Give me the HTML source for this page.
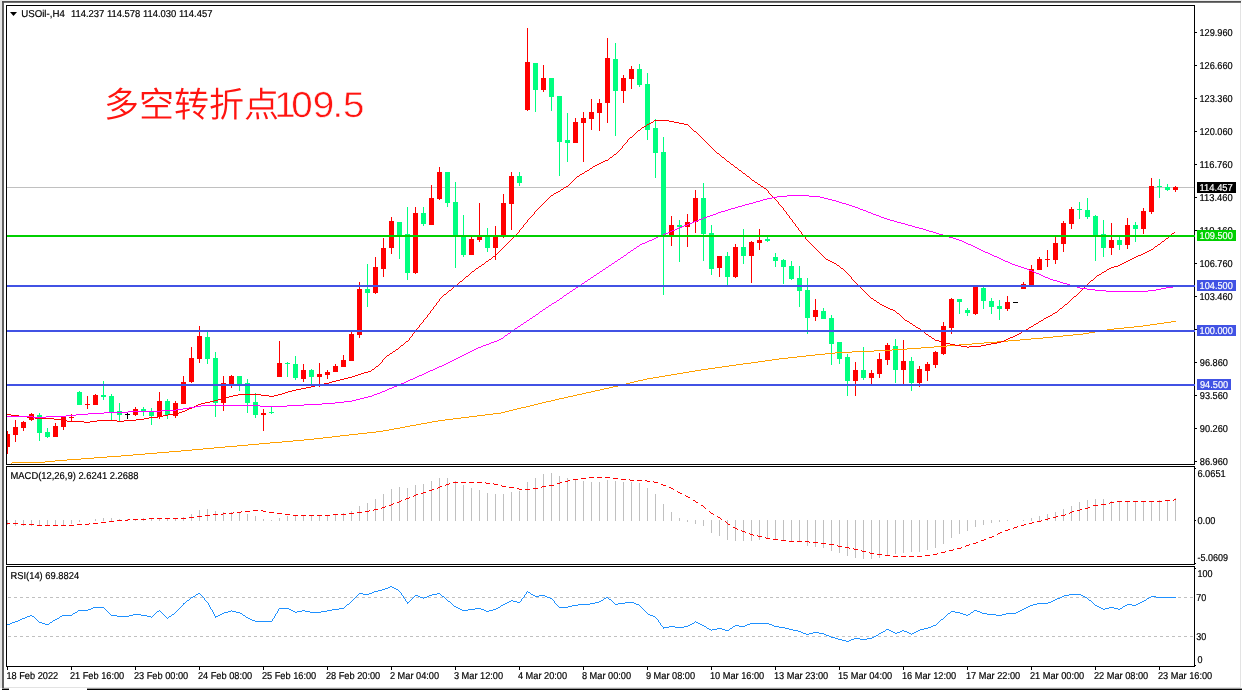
<!DOCTYPE html>
<html lang="zh"><head><meta charset="utf-8"><title>USOil H4</title>
<style>
html,body{margin:0;padding:0;background:#fff;}
body{width:1242px;height:690px;overflow:hidden;}
svg{display:block;will-change:transform;}
text{font-family:"Liberation Sans","Noto Sans CJK SC",sans-serif;font-size:10px;text-rendering:geometricPrecision;fill:#000;white-space:pre;stroke:#000;stroke-width:0.2px;}
.tg{opacity:0.999;}
.ce{shape-rendering:crispEdges;}
.title{stroke:none;font-size:34px;fill:#ff1410;font-weight:350;}
</style></head><body>
<svg width="1242" height="690" viewBox="0 0 1242 690">
<rect width="1242" height="690" fill="#fff"/>

<g class="ce">
<rect x="0" y="0" width="1242" height="1" fill="#ececec"/>
<rect x="0" y="0" width="2" height="688" fill="#e6e6e6"/>
</g><g>
<rect x="2" y="1" width="1239" height="1.8" fill="#505050"/>
<rect x="2.1" y="1" width="1.8" height="687" fill="#505050"/>
</g><g class="ce">
<rect x="1240" y="3" width="1" height="685" fill="#e3e3e3"/>
<rect x="4" y="687" width="1237" height="1" fill="#e3e3e3"/>
<rect x="87" y="689" width="1155" height="1" fill="#000"/>
<rect x="2" y="689" width="7" height="1" fill="#000"/>
</g>
<rect x="87" y="688.6" width="1155" height="0.4" fill="#000"/><rect x="2" y="688.6" width="7" height="0.4" fill="#000"/>
<g class="ce">
<rect x="7" y="187" width="1187" height="1" fill="#c0c0c0"/>
</g>
<g class="ce">
<rect x="7" y="434" width="3" height="13" fill="#ff0000"/>
<rect x="7" y="431" width="1" height="23" fill="#ff0000"/>
<rect x="15" y="420" width="1" height="22" fill="#ff0000"/>
<rect x="13" y="427" width="5" height="8" fill="#ff0000"/>
<rect x="23" y="421" width="1" height="10" fill="#ff0000"/>
<rect x="21" y="422" width="5" height="6" fill="#ff0000"/>
<rect x="31" y="413" width="1" height="8" fill="#ff0000"/>
<rect x="29" y="414" width="5" height="6" fill="#ff0000"/>
<rect x="39" y="413" width="1" height="28" fill="#00ff7f"/>
<rect x="37" y="415" width="5" height="18" fill="#00ff7f"/>
<rect x="47" y="428" width="1" height="10" fill="#00ff7f"/>
<rect x="45" y="432" width="5" height="5" fill="#00ff7f"/>
<rect x="55" y="423" width="1" height="14" fill="#ff0000"/>
<rect x="53" y="426" width="5" height="11" fill="#ff0000"/>
<rect x="63" y="416" width="1" height="14" fill="#ff0000"/>
<rect x="61" y="417" width="5" height="10" fill="#ff0000"/>
<rect x="71" y="414" width="1" height="8" fill="#ff0000"/>
<rect x="69" y="417" width="5" height="1" fill="#ff0000"/>
<rect x="79" y="391" width="1" height="14" fill="#00ff7f"/>
<rect x="77" y="392" width="5" height="13" fill="#00ff7f"/>
<rect x="87" y="396" width="1" height="13" fill="#ff0000"/>
<rect x="85" y="404" width="5" height="1" fill="#ff0000"/>
<rect x="95" y="394" width="1" height="11" fill="#ff0000"/>
<rect x="93" y="395" width="5" height="10" fill="#ff0000"/>
<rect x="103" y="381" width="1" height="19" fill="#00ff7f"/>
<rect x="101" y="395" width="5" height="2" fill="#00ff7f"/>
<rect x="111" y="394" width="1" height="26" fill="#00ff7f"/>
<rect x="109" y="396" width="5" height="16" fill="#00ff7f"/>
<rect x="119" y="403" width="1" height="18" fill="#00ff7f"/>
<rect x="117" y="411" width="5" height="4" fill="#00ff7f"/>
<rect x="127" y="413" width="1" height="6" fill="#000"/>
<rect x="125" y="414" width="5" height="1" fill="#000"/>
<rect x="135" y="407" width="1" height="9" fill="#ff0000"/>
<rect x="133" y="409" width="5" height="6" fill="#ff0000"/>
<rect x="143" y="407" width="1" height="9" fill="#00ff7f"/>
<rect x="141" y="409" width="5" height="2" fill="#00ff7f"/>
<rect x="151" y="408" width="1" height="17" fill="#00ff7f"/>
<rect x="149" y="412" width="5" height="4" fill="#00ff7f"/>
<rect x="159" y="392" width="1" height="27" fill="#ff0000"/>
<rect x="157" y="401" width="5" height="16" fill="#ff0000"/>
<rect x="167" y="399" width="1" height="20" fill="#00ff7f"/>
<rect x="165" y="401" width="5" height="14" fill="#00ff7f"/>
<rect x="175" y="401" width="1" height="17" fill="#ff0000"/>
<rect x="173" y="403" width="5" height="13" fill="#ff0000"/>
<rect x="183" y="376" width="1" height="28" fill="#ff0000"/>
<rect x="181" y="382" width="5" height="22" fill="#ff0000"/>
<rect x="191" y="347" width="1" height="36" fill="#ff0000"/>
<rect x="189" y="358" width="5" height="24" fill="#ff0000"/>
<rect x="199" y="326" width="1" height="37" fill="#ff0000"/>
<rect x="197" y="336" width="5" height="23" fill="#ff0000"/>
<rect x="207" y="332" width="1" height="32" fill="#00ff7f"/>
<rect x="205" y="337" width="5" height="22" fill="#00ff7f"/>
<rect x="215" y="352" width="1" height="65" fill="#00ff7f"/>
<rect x="213" y="358" width="5" height="45" fill="#00ff7f"/>
<rect x="223" y="376" width="1" height="35" fill="#ff0000"/>
<rect x="221" y="383" width="5" height="20" fill="#ff0000"/>
<rect x="231" y="375" width="1" height="13" fill="#ff0000"/>
<rect x="229" y="376" width="5" height="8" fill="#ff0000"/>
<rect x="239" y="376" width="1" height="15" fill="#00ff7f"/>
<rect x="237" y="376" width="5" height="8" fill="#00ff7f"/>
<rect x="247" y="379" width="1" height="34" fill="#00ff7f"/>
<rect x="245" y="383" width="5" height="20" fill="#00ff7f"/>
<rect x="255" y="393" width="1" height="25" fill="#00ff7f"/>
<rect x="253" y="402" width="5" height="13" fill="#00ff7f"/>
<rect x="263" y="409" width="1" height="22" fill="#ff0000"/>
<rect x="261" y="413" width="5" height="2" fill="#ff0000"/>
<rect x="271" y="406" width="1" height="8" fill="#00ff7f"/>
<rect x="269" y="412" width="5" height="1" fill="#00ff7f"/>
<rect x="279" y="341" width="1" height="36" fill="#ff0000"/>
<rect x="277" y="363" width="5" height="14" fill="#ff0000"/>
<rect x="287" y="362" width="1" height="15" fill="#00ff7f"/>
<rect x="285" y="363" width="5" height="1" fill="#00ff7f"/>
<rect x="295" y="356" width="1" height="24" fill="#00ff7f"/>
<rect x="293" y="364" width="5" height="14" fill="#00ff7f"/>
<rect x="303" y="364" width="1" height="18" fill="#ff0000"/>
<rect x="301" y="370" width="5" height="9" fill="#ff0000"/>
<rect x="311" y="369" width="1" height="16" fill="#00ff7f"/>
<rect x="309" y="370" width="5" height="7" fill="#00ff7f"/>
<rect x="319" y="363" width="1" height="24" fill="#ff0000"/>
<rect x="317" y="374" width="5" height="3" fill="#ff0000"/>
<rect x="327" y="370" width="1" height="9" fill="#ff0000"/>
<rect x="325" y="372" width="5" height="3" fill="#ff0000"/>
<rect x="335" y="364" width="1" height="8" fill="#ff0000"/>
<rect x="333" y="366" width="5" height="6" fill="#ff0000"/>
<rect x="343" y="355" width="1" height="12" fill="#ff0000"/>
<rect x="341" y="360" width="5" height="7" fill="#ff0000"/>
<rect x="351" y="332" width="1" height="29" fill="#ff0000"/>
<rect x="349" y="334" width="5" height="27" fill="#ff0000"/>
<rect x="359" y="282" width="1" height="56" fill="#ff0000"/>
<rect x="357" y="289" width="5" height="46" fill="#ff0000"/>
<rect x="367" y="264" width="1" height="43" fill="#00ff7f"/>
<rect x="365" y="289" width="5" height="4" fill="#00ff7f"/>
<rect x="375" y="257" width="1" height="37" fill="#ff0000"/>
<rect x="373" y="267" width="5" height="26" fill="#ff0000"/>
<rect x="383" y="238" width="1" height="39" fill="#ff0000"/>
<rect x="381" y="248" width="5" height="21" fill="#ff0000"/>
<rect x="391" y="217" width="1" height="37" fill="#ff0000"/>
<rect x="389" y="221" width="5" height="27" fill="#ff0000"/>
<rect x="399" y="222" width="1" height="37" fill="#00ff7f"/>
<rect x="397" y="222" width="5" height="13" fill="#00ff7f"/>
<rect x="407" y="207" width="1" height="73" fill="#00ff7f"/>
<rect x="405" y="234" width="5" height="39" fill="#00ff7f"/>
<rect x="415" y="207" width="1" height="67" fill="#ff0000"/>
<rect x="413" y="213" width="5" height="60" fill="#ff0000"/>
<rect x="423" y="207" width="1" height="19" fill="#00ff7f"/>
<rect x="421" y="213" width="5" height="11" fill="#00ff7f"/>
<rect x="431" y="185" width="1" height="40" fill="#ff0000"/>
<rect x="429" y="198" width="5" height="27" fill="#ff0000"/>
<rect x="439" y="167" width="1" height="33" fill="#ff0000"/>
<rect x="437" y="172" width="5" height="27" fill="#ff0000"/>
<rect x="447" y="172" width="1" height="35" fill="#00ff7f"/>
<rect x="445" y="172" width="5" height="31" fill="#00ff7f"/>
<rect x="455" y="182" width="1" height="86" fill="#00ff7f"/>
<rect x="453" y="202" width="5" height="33" fill="#00ff7f"/>
<rect x="463" y="215" width="1" height="42" fill="#00ff7f"/>
<rect x="461" y="236" width="5" height="19" fill="#00ff7f"/>
<rect x="471" y="237" width="1" height="18" fill="#ff0000"/>
<rect x="469" y="239" width="5" height="16" fill="#ff0000"/>
<rect x="479" y="203" width="1" height="39" fill="#ff0000"/>
<rect x="477" y="237" width="5" height="3" fill="#ff0000"/>
<rect x="487" y="228" width="1" height="24" fill="#00ff7f"/>
<rect x="485" y="237" width="5" height="11" fill="#00ff7f"/>
<rect x="495" y="226" width="1" height="34" fill="#ff0000"/>
<rect x="493" y="237" width="5" height="11" fill="#ff0000"/>
<rect x="503" y="194" width="1" height="44" fill="#ff0000"/>
<rect x="501" y="203" width="5" height="32" fill="#ff0000"/>
<rect x="511" y="172" width="1" height="58" fill="#ff0000"/>
<rect x="509" y="176" width="5" height="28" fill="#ff0000"/>
<rect x="519" y="172" width="1" height="14" fill="#00ff7f"/>
<rect x="517" y="176" width="5" height="7" fill="#00ff7f"/>
<rect x="527" y="28" width="1" height="83" fill="#ff0000"/>
<rect x="525" y="62" width="5" height="48" fill="#ff0000"/>
<rect x="535" y="63" width="1" height="49" fill="#00ff7f"/>
<rect x="533" y="63" width="5" height="27" fill="#00ff7f"/>
<rect x="543" y="65" width="1" height="27" fill="#ff0000"/>
<rect x="541" y="78" width="5" height="12" fill="#ff0000"/>
<rect x="551" y="78" width="1" height="33" fill="#00ff7f"/>
<rect x="549" y="78" width="5" height="19" fill="#00ff7f"/>
<rect x="559" y="96" width="1" height="80" fill="#00ff7f"/>
<rect x="557" y="96" width="5" height="46" fill="#00ff7f"/>
<rect x="567" y="113" width="1" height="49" fill="#00ff7f"/>
<rect x="565" y="140" width="5" height="3" fill="#00ff7f"/>
<rect x="575" y="118" width="1" height="25" fill="#ff0000"/>
<rect x="573" y="122" width="5" height="21" fill="#ff0000"/>
<rect x="583" y="112" width="1" height="50" fill="#ff0000"/>
<rect x="581" y="118" width="5" height="5" fill="#ff0000"/>
<rect x="591" y="99" width="1" height="31" fill="#ff0000"/>
<rect x="589" y="112" width="5" height="7" fill="#ff0000"/>
<rect x="599" y="99" width="1" height="32" fill="#ff0000"/>
<rect x="597" y="103" width="5" height="10" fill="#ff0000"/>
<rect x="607" y="38" width="1" height="85" fill="#ff0000"/>
<rect x="605" y="58" width="5" height="45" fill="#ff0000"/>
<rect x="615" y="43" width="1" height="93" fill="#00ff7f"/>
<rect x="613" y="59" width="5" height="32" fill="#00ff7f"/>
<rect x="623" y="75" width="1" height="28" fill="#ff0000"/>
<rect x="621" y="78" width="5" height="13" fill="#ff0000"/>
<rect x="631" y="66" width="1" height="23" fill="#ff0000"/>
<rect x="629" y="69" width="5" height="10" fill="#ff0000"/>
<rect x="639" y="64" width="1" height="23" fill="#00ff7f"/>
<rect x="637" y="69" width="5" height="16" fill="#00ff7f"/>
<rect x="647" y="73" width="1" height="67" fill="#00ff7f"/>
<rect x="645" y="84" width="5" height="46" fill="#00ff7f"/>
<rect x="655" y="119" width="1" height="59" fill="#00ff7f"/>
<rect x="653" y="128" width="5" height="25" fill="#00ff7f"/>
<rect x="663" y="137" width="1" height="158" fill="#00ff7f"/>
<rect x="661" y="152" width="5" height="83" fill="#00ff7f"/>
<rect x="671" y="216" width="1" height="30" fill="#ff0000"/>
<rect x="669" y="225" width="5" height="10" fill="#ff0000"/>
<rect x="679" y="220" width="1" height="42" fill="#00ff7f"/>
<rect x="677" y="225" width="5" height="2" fill="#00ff7f"/>
<rect x="687" y="214" width="1" height="33" fill="#ff0000"/>
<rect x="685" y="222" width="5" height="5" fill="#ff0000"/>
<rect x="695" y="190" width="1" height="43" fill="#ff0000"/>
<rect x="693" y="198" width="5" height="24" fill="#ff0000"/>
<rect x="703" y="183" width="1" height="78" fill="#00ff7f"/>
<rect x="701" y="198" width="5" height="36" fill="#00ff7f"/>
<rect x="711" y="225" width="1" height="50" fill="#00ff7f"/>
<rect x="709" y="233" width="5" height="36" fill="#00ff7f"/>
<rect x="719" y="256" width="1" height="21" fill="#ff0000"/>
<rect x="717" y="256" width="5" height="12" fill="#ff0000"/>
<rect x="727" y="252" width="1" height="33" fill="#00ff7f"/>
<rect x="725" y="256" width="5" height="21" fill="#00ff7f"/>
<rect x="735" y="244" width="1" height="34" fill="#ff0000"/>
<rect x="733" y="247" width="5" height="30" fill="#ff0000"/>
<rect x="743" y="229" width="1" height="35" fill="#00ff7f"/>
<rect x="741" y="247" width="5" height="9" fill="#00ff7f"/>
<rect x="751" y="241" width="1" height="42" fill="#ff0000"/>
<rect x="749" y="242" width="5" height="14" fill="#ff0000"/>
<rect x="759" y="229" width="1" height="21" fill="#ff0000"/>
<rect x="757" y="240" width="5" height="3" fill="#ff0000"/>
<rect x="767" y="237" width="1" height="5" fill="#00ff7f"/>
<rect x="765" y="239" width="5" height="2" fill="#00ff7f"/>
<rect x="775" y="253" width="1" height="14" fill="#00ff7f"/>
<rect x="773" y="257" width="5" height="4" fill="#00ff7f"/>
<rect x="783" y="259" width="1" height="25" fill="#00ff7f"/>
<rect x="781" y="260" width="5" height="7" fill="#00ff7f"/>
<rect x="791" y="261" width="1" height="19" fill="#00ff7f"/>
<rect x="789" y="266" width="5" height="13" fill="#00ff7f"/>
<rect x="799" y="266" width="1" height="41" fill="#00ff7f"/>
<rect x="797" y="278" width="5" height="13" fill="#00ff7f"/>
<rect x="807" y="278" width="1" height="56" fill="#00ff7f"/>
<rect x="805" y="290" width="5" height="28" fill="#00ff7f"/>
<rect x="815" y="299" width="1" height="22" fill="#ff0000"/>
<rect x="813" y="310" width="5" height="7" fill="#ff0000"/>
<rect x="823" y="308" width="1" height="11" fill="#00ff7f"/>
<rect x="821" y="311" width="5" height="8" fill="#00ff7f"/>
<rect x="831" y="315" width="1" height="50" fill="#00ff7f"/>
<rect x="829" y="318" width="5" height="26" fill="#00ff7f"/>
<rect x="839" y="342" width="1" height="22" fill="#00ff7f"/>
<rect x="837" y="342" width="5" height="17" fill="#00ff7f"/>
<rect x="847" y="354" width="1" height="42" fill="#00ff7f"/>
<rect x="845" y="357" width="5" height="24" fill="#00ff7f"/>
<rect x="855" y="362" width="1" height="34" fill="#ff0000"/>
<rect x="853" y="370" width="5" height="11" fill="#ff0000"/>
<rect x="863" y="347" width="1" height="33" fill="#00ff7f"/>
<rect x="861" y="370" width="5" height="8" fill="#00ff7f"/>
<rect x="871" y="370" width="1" height="14" fill="#ff0000"/>
<rect x="869" y="373" width="5" height="5" fill="#ff0000"/>
<rect x="879" y="353" width="1" height="25" fill="#ff0000"/>
<rect x="877" y="359" width="5" height="15" fill="#ff0000"/>
<rect x="887" y="343" width="1" height="22" fill="#ff0000"/>
<rect x="885" y="345" width="5" height="15" fill="#ff0000"/>
<rect x="895" y="339" width="1" height="44" fill="#00ff7f"/>
<rect x="893" y="346" width="5" height="24" fill="#00ff7f"/>
<rect x="903" y="340" width="1" height="44" fill="#ff0000"/>
<rect x="901" y="361" width="5" height="9" fill="#ff0000"/>
<rect x="911" y="357" width="1" height="34" fill="#00ff7f"/>
<rect x="909" y="361" width="5" height="22" fill="#00ff7f"/>
<rect x="919" y="366" width="1" height="21" fill="#ff0000"/>
<rect x="917" y="369" width="5" height="14" fill="#ff0000"/>
<rect x="927" y="362" width="1" height="19" fill="#ff0000"/>
<rect x="925" y="364" width="5" height="7" fill="#ff0000"/>
<rect x="935" y="351" width="1" height="17" fill="#ff0000"/>
<rect x="933" y="352" width="5" height="13" fill="#ff0000"/>
<rect x="943" y="322" width="1" height="33" fill="#ff0000"/>
<rect x="941" y="326" width="5" height="28" fill="#ff0000"/>
<rect x="951" y="298" width="1" height="36" fill="#ff0000"/>
<rect x="949" y="299" width="5" height="29" fill="#ff0000"/>
<rect x="959" y="299" width="1" height="15" fill="#00ff7f"/>
<rect x="957" y="299" width="5" height="3" fill="#00ff7f"/>
<rect x="967" y="308" width="1" height="8" fill="#00ff7f"/>
<rect x="965" y="310" width="5" height="3" fill="#00ff7f"/>
<rect x="975" y="286" width="1" height="29" fill="#ff0000"/>
<rect x="973" y="287" width="5" height="27" fill="#ff0000"/>
<rect x="983" y="287" width="1" height="22" fill="#00ff7f"/>
<rect x="981" y="288" width="5" height="13" fill="#00ff7f"/>
<rect x="991" y="298" width="1" height="16" fill="#00ff7f"/>
<rect x="989" y="301" width="5" height="6" fill="#00ff7f"/>
<rect x="999" y="300" width="1" height="20" fill="#00ff7f"/>
<rect x="997" y="306" width="5" height="3" fill="#00ff7f"/>
<rect x="1007" y="296" width="1" height="15" fill="#ff0000"/>
<rect x="1005" y="302" width="5" height="7" fill="#ff0000"/>
<rect x="1015" y="302" width="1" height="1" fill="#000"/>
<rect x="1013" y="302" width="5" height="1" fill="#000"/>
<rect x="1023" y="282" width="1" height="7" fill="#ff0000"/>
<rect x="1021" y="284" width="5" height="5" fill="#ff0000"/>
<rect x="1031" y="265" width="1" height="20" fill="#ff0000"/>
<rect x="1029" y="269" width="5" height="16" fill="#ff0000"/>
<rect x="1039" y="257" width="1" height="13" fill="#ff0000"/>
<rect x="1037" y="259" width="5" height="11" fill="#ff0000"/>
<rect x="1047" y="250" width="1" height="17" fill="#ff0000"/>
<rect x="1045" y="259" width="5" height="1" fill="#ff0000"/>
<rect x="1055" y="237" width="1" height="27" fill="#ff0000"/>
<rect x="1053" y="243" width="5" height="17" fill="#ff0000"/>
<rect x="1063" y="221" width="1" height="31" fill="#ff0000"/>
<rect x="1061" y="223" width="5" height="21" fill="#ff0000"/>
<rect x="1071" y="207" width="1" height="22" fill="#ff0000"/>
<rect x="1069" y="209" width="5" height="15" fill="#ff0000"/>
<rect x="1079" y="202" width="1" height="17" fill="#00ff7f"/>
<rect x="1077" y="209" width="5" height="1" fill="#00ff7f"/>
<rect x="1087" y="198" width="1" height="21" fill="#00ff7f"/>
<rect x="1085" y="210" width="5" height="7" fill="#00ff7f"/>
<rect x="1095" y="215" width="1" height="46" fill="#00ff7f"/>
<rect x="1093" y="216" width="5" height="20" fill="#00ff7f"/>
<rect x="1103" y="220" width="1" height="37" fill="#00ff7f"/>
<rect x="1101" y="234" width="5" height="14" fill="#00ff7f"/>
<rect x="1111" y="223" width="1" height="32" fill="#ff0000"/>
<rect x="1109" y="240" width="5" height="8" fill="#ff0000"/>
<rect x="1119" y="237" width="1" height="13" fill="#00ff7f"/>
<rect x="1117" y="240" width="5" height="5" fill="#00ff7f"/>
<rect x="1127" y="218" width="1" height="31" fill="#ff0000"/>
<rect x="1125" y="225" width="5" height="20" fill="#ff0000"/>
<rect x="1135" y="222" width="1" height="20" fill="#00ff7f"/>
<rect x="1133" y="225" width="5" height="4" fill="#00ff7f"/>
<rect x="1143" y="208" width="1" height="26" fill="#ff0000"/>
<rect x="1141" y="211" width="5" height="18" fill="#ff0000"/>
<rect x="1151" y="178" width="1" height="36" fill="#ff0000"/>
<rect x="1149" y="186" width="5" height="26" fill="#ff0000"/>
<rect x="1159" y="179" width="1" height="19" fill="#00ff7f"/>
<rect x="1157" y="186" width="5" height="1" fill="#00ff7f"/>
<rect x="1167" y="184" width="1" height="7" fill="#00ff7f"/>
<rect x="1165" y="187" width="5" height="3" fill="#00ff7f"/>
<rect x="1175" y="186" width="1" height="6" fill="#ff0000"/>
<rect x="1173" y="187" width="5" height="3" fill="#ff0000"/>
</g>
<g class="ce">
<path d="M1171 321.5h5M1164 322.5h7M1157 323.5h7M1150 324.5h7M1143 325.5h7M1134 326.5h9M1124 327.5h10M1114 328.5h10M1107 329.5h7M1101 330.5h6M1095 331.5h6M1089 332.5h6M1083 333.5h6M1073 334.5h10M1063 335.5h10M1053 336.5h10M1043 337.5h10M1031 338.5h12M1020 339.5h11M1008 340.5h12M997 341.5h11M984 342.5h13M972 343.5h12M959 344.5h13M947 345.5h12M934 346.5h13M921 347.5h13M907 348.5h14M892 349.5h15M874 350.5h18M852 351.5h22M835 352.5h17M825 353.5h10M815 354.5h10M806 355.5h9M797 356.5h9M788 357.5h9M779 358.5h9M772 359.5h7M765 360.5h7M758 361.5h7M751 362.5h7M743 363.5h8M736 364.5h7M729 365.5h7M722 366.5h7M715 367.5h7M708 368.5h7M701 369.5h7M695 370.5h6M689 371.5h6M683 372.5h6M677 373.5h6M671 374.5h6M665 375.5h6M659 376.5h6M653 377.5h6M647 378.5h6M643 379.5h4M638 380.5h5M634 381.5h4M630 382.5h4M626 383.5h4M622 384.5h4M618 385.5h4M613 386.5h5M609 387.5h4M604 388.5h5M600 389.5h4M595 390.5h5M591 391.5h4M586 392.5h5M582 393.5h4M577 394.5h5M573 395.5h4M568 396.5h5M564 397.5h4M559 398.5h5M555 399.5h4M551 400.5h4M546 401.5h5M542 402.5h4M538 403.5h4M534 404.5h4M530 405.5h4M526 406.5h4M521 407.5h5M517 408.5h4M513 409.5h4M509 410.5h4M505 411.5h4M501 412.5h4M493 413.5h8M485 414.5h8M477 415.5h8M469 416.5h8M461 417.5h8M453 418.5h8M445 419.5h8M438 420.5h7M432 421.5h6M427 422.5h5M421 423.5h6M416 424.5h5M410 425.5h6M405 426.5h5M400 427.5h5M394 428.5h6M389 429.5h5M383 430.5h6M376 431.5h7M367 432.5h9M358 433.5h9M349 434.5h9M340 435.5h9M332 436.5h8M323 437.5h9M314 438.5h9M304 439.5h10M293 440.5h11M282 441.5h11M270 442.5h12M259 443.5h11M248 444.5h11M237 445.5h11M225 446.5h12M214 447.5h11M203 448.5h11M192 449.5h11M181 450.5h11M169 451.5h12M157 452.5h12M145 453.5h12M133 454.5h12M121 455.5h12M107 456.5h14M94 457.5h13M81 458.5h13M67 459.5h14M55 460.5h12M45 461.5h10M12 462.5h33M11 463.5h1" fill="none" stroke="#ffa000" stroke-width="1"/>
<path d="M654 120.5h15M653 121.5h1M669 121.5h5M651 122.5h2M674 122.5h5M649 123.5h2M679 123.5h5M647 124.5h2M684 124.5h4M646 125.5h1M688 125.5h1M644 126.5h2M689 126.5h1M642 127.5h2M690 127.5h1M641 128.5h1M691 128.5h1M640 129.5h1M692 129.5h1M638 130.5h2M693 130.5h1M637 131.5h1M694 131.5h2M636 132.5h1M696 132.5h1M635 133.5h1M697 133.5h1M634 134.5h1M698 134.5h1M633 135.5h1M699 135.5h1M632 136.5h1M700 136.5h1M630 137.5h2M701 137.5h1M629 138.5h1M702 138.5h1M628 139.5h1M703 139.5h1M627 140.5h1M704 140.5h1M627 141.5h1M705 141.5h1M626 142.5h1M706 142.5h1M625 143.5h1M707 143.5h1M624 144.5h1M708 144.5h1M623 145.5h1M709 145.5h1M622 146.5h1M710 146.5h1M622 147.5h1M711 147.5h1M621 148.5h1M712 148.5h1M620 149.5h1M713 149.5h1M619 150.5h1M714 150.5h1M618 151.5h1M715 151.5h1M617 152.5h1M716 152.5h1M616 153.5h1M717 153.5h2M614 154.5h2M719 154.5h1M613 155.5h1M720 155.5h1M612 156.5h1M721 156.5h1M610 157.5h2M722 157.5h2M609 158.5h1M724 158.5h1M608 159.5h1M725 159.5h1M605 160.5h3M726 160.5h1M603 161.5h2M727 161.5h2M601 162.5h2M729 162.5h1M599 163.5h2M730 163.5h1M597 164.5h2M731 164.5h2M595 165.5h2M733 165.5h1M593 166.5h2M734 166.5h1M592 167.5h1M735 167.5h2M590 168.5h2M737 168.5h1M589 169.5h1M738 169.5h1M587 170.5h2M739 170.5h2M585 171.5h2M741 171.5h1M584 172.5h1M742 172.5h1M582 173.5h2M743 173.5h2M580 174.5h2M745 174.5h1M579 175.5h1M746 175.5h1M577 176.5h2M747 176.5h2M576 177.5h1M749 177.5h1M575 178.5h1M750 178.5h1M574 179.5h1M751 179.5h1M573 180.5h1M752 180.5h2M572 181.5h1M754 181.5h1M571 182.5h1M755 182.5h2M570 183.5h1M757 183.5h1M569 184.5h1M758 184.5h2M568 185.5h1M760 185.5h1M566 186.5h2M761 186.5h2M564 187.5h2M763 187.5h1M563 188.5h1M764 188.5h2M561 189.5h2M766 189.5h1M560 190.5h1M767 190.5h1M558 191.5h2M768 191.5h1M556 192.5h2M768 192.5h1M554 193.5h2M769 193.5h1M553 194.5h1M770 194.5h1M551 195.5h2M771 195.5h1M550 196.5h1M772 196.5h1M549 197.5h1M773 197.5h1M548 198.5h1M774 198.5h1M547 199.5h1M775 199.5h1M546 200.5h1M776 200.5h1M545 201.5h1M777 201.5h1M544 202.5h1M778 202.5h1M543 203.5h1M778 203.5h1M542 204.5h1M779 204.5h1M541 205.5h1M780 205.5h1M540 206.5h1M781 206.5h1M539 207.5h1M782 207.5h1M538 208.5h1M783 208.5h1M537 209.5h1M783 209.5h1M536 210.5h1M784 210.5h1M535 211.5h1M785 211.5h1M534 212.5h1M786 212.5h1M534 213.5h1M786 213.5h1M533 214.5h1M787 214.5h1M532 215.5h1M788 215.5h1M531 216.5h1M789 216.5h1M530 217.5h1M789 217.5h1M529 218.5h1M790 218.5h1M528 219.5h1M791 219.5h1M527 220.5h1M792 220.5h1M527 221.5h1M792 221.5h1M526 222.5h1M793 222.5h1M525 223.5h1M794 223.5h1M524 224.5h1M795 224.5h1M523 225.5h1M795 225.5h1M523 226.5h1M796 226.5h1M522 227.5h1M797 227.5h1M521 228.5h1M798 228.5h1M520 229.5h1M798 229.5h1M519 230.5h1M799 230.5h1M519 231.5h1M800 231.5h1M518 232.5h1M801 232.5h1M1174 232.5h1M517 233.5h1M801 233.5h1M1172 233.5h2M516 234.5h1M802 234.5h1M1171 234.5h1M515 235.5h1M803 235.5h1M1170 235.5h1M514 236.5h1M804 236.5h1M1169 236.5h1M513 237.5h1M805 237.5h1M1168 237.5h1M512 238.5h1M805 238.5h1M1166 238.5h2M511 239.5h1M806 239.5h1M1165 239.5h1M510 240.5h1M807 240.5h1M1164 240.5h1M509 241.5h1M808 241.5h1M1162 241.5h2M508 242.5h1M809 242.5h1M1161 242.5h1M507 243.5h1M810 243.5h1M1160 243.5h1M506 244.5h1M811 244.5h1M1158 244.5h2M505 245.5h1M812 245.5h1M1157 245.5h1M504 246.5h1M813 246.5h1M1155 246.5h2M503 247.5h1M814 247.5h1M1154 247.5h1M502 248.5h1M815 248.5h1M1153 248.5h1M501 249.5h1M816 249.5h1M1151 249.5h2M500 250.5h1M817 250.5h1M1149 250.5h2M499 251.5h1M818 251.5h1M1147 251.5h2M498 252.5h1M819 252.5h1M1145 252.5h2M497 253.5h1M820 253.5h1M1143 253.5h2M496 254.5h1M821 254.5h1M1141 254.5h2M495 255.5h1M822 255.5h1M1138 255.5h3M493 256.5h2M823 256.5h1M1136 256.5h2M492 257.5h1M824 257.5h1M1134 257.5h2M491 258.5h1M825 258.5h1M1132 258.5h2M489 259.5h2M826 259.5h2M1130 259.5h2M488 260.5h1M828 260.5h2M1128 260.5h2M486 261.5h2M830 261.5h2M1126 261.5h2M485 262.5h1M832 262.5h2M1124 262.5h2M484 263.5h1M834 263.5h2M1122 263.5h2M482 264.5h2M836 264.5h1M1120 264.5h2M481 265.5h1M837 265.5h2M1118 265.5h2M479 266.5h2M839 266.5h1M1114 266.5h4M478 267.5h1M840 267.5h1M1111 267.5h3M476 268.5h2M841 268.5h2M1109 268.5h2M475 269.5h1M843 269.5h1M1107 269.5h2M474 270.5h1M844 270.5h1M1106 270.5h1M472 271.5h2M845 271.5h1M1104 271.5h2M471 272.5h1M846 272.5h1M1102 272.5h2M470 273.5h1M847 273.5h1M1101 273.5h1M469 274.5h1M848 274.5h1M1099 274.5h2M468 275.5h1M849 275.5h1M1097 275.5h2M466 276.5h2M850 276.5h1M1096 276.5h1M465 277.5h1M851 277.5h1M1095 277.5h1M464 278.5h1M851 278.5h1M1094 278.5h1M463 279.5h1M852 279.5h1M1093 279.5h1M462 280.5h1M853 280.5h1M1091 280.5h2M460 281.5h2M854 281.5h1M1090 281.5h1M459 282.5h1M855 282.5h1M1089 282.5h1M458 283.5h1M856 283.5h1M1088 283.5h1M457 284.5h1M857 284.5h1M1087 284.5h1M456 285.5h1M858 285.5h1M1086 285.5h1M454 286.5h2M858 286.5h2M1085 286.5h1M453 287.5h1M860 287.5h1M1084 287.5h1M452 288.5h1M861 288.5h1M1083 288.5h1M451 289.5h1M862 289.5h1M1082 289.5h1M449 290.5h2M863 290.5h1M1081 290.5h1M448 291.5h1M864 291.5h1M1080 291.5h1M447 292.5h1M865 292.5h1M1079 292.5h1M446 293.5h1M866 293.5h1M1078 293.5h1M444 294.5h2M867 294.5h1M1077 294.5h1M443 295.5h1M868 295.5h1M1076 295.5h1M442 296.5h1M869 296.5h1M1074 296.5h2M441 297.5h1M870 297.5h1M1073 297.5h1M440 298.5h1M871 298.5h2M1072 298.5h1M439 299.5h1M873 299.5h1M1071 299.5h1M439 300.5h1M874 300.5h2M1070 300.5h1M438 301.5h1M876 301.5h1M1069 301.5h1M437 302.5h1M877 302.5h2M1068 302.5h1M436 303.5h1M879 303.5h1M1067 303.5h1M436 304.5h1M880 304.5h2M1065 304.5h2M435 305.5h1M882 305.5h2M1064 305.5h1M434 306.5h1M884 306.5h2M1063 306.5h1M433 307.5h1M886 307.5h2M1062 307.5h1M433 308.5h1M888 308.5h2M1060 308.5h2M432 309.5h1M890 309.5h3M1059 309.5h1M431 310.5h1M893 310.5h2M1058 310.5h1M430 311.5h1M895 311.5h1M1057 311.5h1M430 312.5h1M896 312.5h1M1055 312.5h2M429 313.5h1M897 313.5h2M1053 313.5h2M428 314.5h1M899 314.5h1M1052 314.5h1M427 315.5h1M900 315.5h1M1050 315.5h2M427 316.5h1M901 316.5h1M1048 316.5h2M426 317.5h1M902 317.5h1M1046 317.5h2M425 318.5h1M903 318.5h1M1044 318.5h2M424 319.5h1M904 319.5h1M1043 319.5h1M423 320.5h1M905 320.5h2M1041 320.5h2M423 321.5h1M907 321.5h2M1039 321.5h2M422 322.5h1M909 322.5h1M1038 322.5h1M421 323.5h1M910 323.5h2M1036 323.5h2M420 324.5h1M912 324.5h1M1034 324.5h2M419 325.5h1M913 325.5h2M1033 325.5h1M419 326.5h1M915 326.5h1M1031 326.5h2M418 327.5h1M916 327.5h2M1029 327.5h2M417 328.5h1M918 328.5h2M1028 328.5h1M416 329.5h1M920 329.5h1M1026 329.5h2M416 330.5h1M921 330.5h1M1024 330.5h2M415 331.5h1M922 331.5h2M1022 331.5h2M414 332.5h1M924 332.5h1M1021 332.5h1M413 333.5h1M925 333.5h1M1019 333.5h2M412 334.5h1M926 334.5h2M1017 334.5h2M412 335.5h1M928 335.5h1M1015 335.5h2M411 336.5h1M929 336.5h2M1013 336.5h2M410 337.5h1M931 337.5h1M1010 337.5h3M409 338.5h1M932 338.5h2M1008 338.5h2M409 339.5h1M934 339.5h1M1006 339.5h2M408 340.5h1M935 340.5h4M1004 340.5h2M406 341.5h2M939 341.5h3M1001 341.5h3M405 342.5h1M942 342.5h3M997 342.5h4M404 343.5h1M945 343.5h5M991 343.5h6M403 344.5h1M950 344.5h5M986 344.5h5M401 345.5h2M955 345.5h6M981 345.5h5M400 346.5h1M961 346.5h6M969 346.5h12M399 347.5h1M967 347.5h2M398 348.5h1M396 349.5h2M395 350.5h1M393 351.5h2M392 352.5h1M390 353.5h2M389 354.5h1M387 355.5h2M386 356.5h1M385 357.5h1M384 358.5h1M383 359.5h1M382 360.5h1M382 361.5h1M381 362.5h1M380 363.5h1M379 364.5h1M378 365.5h1M376 366.5h2M375 367.5h1M374 368.5h1M372 369.5h2M371 370.5h1M368 371.5h3M364 372.5h4M361 373.5h3M358 374.5h3M355 375.5h3M352 376.5h3M348 377.5h4M344 378.5h4M340 379.5h4M336 380.5h4M332 381.5h4M329 382.5h3M324 383.5h5M319 384.5h5M315 385.5h4M311 386.5h4M306 387.5h5M301 388.5h5M296 389.5h5M292 390.5h4M288 391.5h4M285 392.5h3M282 393.5h3M238 394.5h23M278 394.5h4M233 395.5h5M261 395.5h8M274 395.5h4M229 396.5h4M269 396.5h5M225 397.5h4M222 398.5h3M218 399.5h4M214 400.5h4M210 401.5h4M205 402.5h5M201 403.5h4M198 404.5h3M196 405.5h2M194 406.5h2M192 407.5h2M189 408.5h3M187 409.5h2M185 410.5h2M182 411.5h3M179 412.5h3M173 413.5h6M7 414.5h4M168 414.5h5M11 415.5h8M163 415.5h5M19 416.5h8M158 416.5h5M27 417.5h8M149 417.5h9M35 418.5h19M144 418.5h5M54 419.5h7M136 419.5h8M61 420.5h6M97 420.5h20M124 420.5h12M67 421.5h17M90 421.5h7M117 421.5h7M84 422.5h6" fill="none" stroke="#ff0000" stroke-width="1"/>
<path d="M787 195.5h22M777 196.5h10M809 196.5h11M772 197.5h5M820 197.5h4M767 198.5h5M824 198.5h4M763 199.5h4M828 199.5h4M760 200.5h3M832 200.5h4M756 201.5h4M836 201.5h3M753 202.5h3M839 202.5h3M749 203.5h4M842 203.5h4M745 204.5h4M846 204.5h3M742 205.5h3M849 205.5h3M738 206.5h4M852 206.5h3M735 207.5h3M855 207.5h3M731 208.5h4M858 208.5h2M728 209.5h3M860 209.5h3M725 210.5h3M863 210.5h3M721 211.5h4M866 211.5h2M718 212.5h3M868 212.5h3M716 213.5h2M871 213.5h2M713 214.5h3M873 214.5h3M710 215.5h3M876 215.5h3M707 216.5h3M879 216.5h2M704 217.5h3M881 217.5h3M702 218.5h2M884 218.5h3M699 219.5h3M887 219.5h3M697 220.5h2M890 220.5h4M694 221.5h3M894 221.5h3M692 222.5h2M897 222.5h4M689 223.5h3M901 223.5h4M687 224.5h2M905 224.5h3M684 225.5h3M908 225.5h4M682 226.5h2M912 226.5h3M679 227.5h3M915 227.5h4M677 228.5h2M919 228.5h4M675 229.5h2M923 229.5h3M672 230.5h3M926 230.5h3M670 231.5h2M929 231.5h4M668 232.5h2M933 232.5h3M665 233.5h3M936 233.5h3M663 234.5h2M939 234.5h4M661 235.5h2M943 235.5h3M658 236.5h3M946 236.5h3M656 237.5h2M949 237.5h4M654 238.5h2M953 238.5h3M652 239.5h2M956 239.5h3M649 240.5h3M959 240.5h3M647 241.5h2M962 241.5h2M645 242.5h2M964 242.5h2M642 243.5h3M966 243.5h2M640 244.5h2M968 244.5h3M639 245.5h1M971 245.5h2M637 246.5h2M973 246.5h2M636 247.5h1M975 247.5h2M634 248.5h2M977 248.5h2M633 249.5h1M979 249.5h2M631 250.5h2M981 250.5h2M630 251.5h1M983 251.5h2M628 252.5h2M985 252.5h3M627 253.5h1M988 253.5h2M626 254.5h1M990 254.5h2M624 255.5h2M992 255.5h2M623 256.5h1M994 256.5h3M621 257.5h2M997 257.5h2M620 258.5h1M999 258.5h2M618 259.5h2M1001 259.5h2M617 260.5h1M1003 260.5h2M615 261.5h2M1005 261.5h3M614 262.5h1M1008 262.5h2M612 263.5h2M1010 263.5h2M611 264.5h1M1012 264.5h3M609 265.5h2M1015 265.5h3M608 266.5h1M1018 266.5h3M606 267.5h2M1021 267.5h3M605 268.5h1M1024 268.5h3M603 269.5h2M1027 269.5h2M602 270.5h1M1029 270.5h3M600 271.5h2M1032 271.5h2M599 272.5h1M1034 272.5h2M597 273.5h2M1036 273.5h3M596 274.5h1M1039 274.5h2M594 275.5h2M1041 275.5h2M593 276.5h1M1043 276.5h2M591 277.5h2M1045 277.5h3M590 278.5h1M1048 278.5h2M588 279.5h2M1050 279.5h3M587 280.5h1M1053 280.5h4M585 281.5h2M1057 281.5h3M584 282.5h1M1060 282.5h3M582 283.5h2M1063 283.5h4M581 284.5h1M1067 284.5h3M579 285.5h2M1070 285.5h4M578 286.5h1M1074 286.5h3M1173 286.5h2M576 287.5h2M1077 287.5h3M1166 287.5h7M575 288.5h1M1080 288.5h7M1161 288.5h5M573 289.5h2M1087 289.5h8M1156 289.5h5M572 290.5h1M1095 290.5h11M1148 290.5h8M570 291.5h2M1106 291.5h42M569 292.5h1M567 293.5h2M566 294.5h1M564 295.5h2M563 296.5h1M562 297.5h1M560 298.5h2M559 299.5h1M557 300.5h2M556 301.5h1M554 302.5h2M552 303.5h2M551 304.5h1M549 305.5h2M548 306.5h1M546 307.5h2M545 308.5h1M543 309.5h2M542 310.5h1M540 311.5h2M539 312.5h1M538 313.5h1M536 314.5h2M535 315.5h1M533 316.5h2M532 317.5h1M530 318.5h2M529 319.5h1M527 320.5h2M526 321.5h1M524 322.5h2M523 323.5h1M521 324.5h2M520 325.5h1M518 326.5h2M517 327.5h1M515 328.5h2M514 329.5h1M513 330.5h1M511 331.5h2M510 332.5h1M508 333.5h2M507 334.5h1M505 335.5h2M504 336.5h1M503 337.5h1M501 338.5h2M499 339.5h2M497 340.5h2M494 341.5h3M491 342.5h3M489 343.5h2M486 344.5h3M483 345.5h3M481 346.5h2M478 347.5h3M476 348.5h2M474 349.5h2M472 350.5h2M470 351.5h2M468 352.5h2M466 353.5h2M464 354.5h2M462 355.5h2M460 356.5h2M458 357.5h2M456 358.5h2M454 359.5h2M452 360.5h2M450 361.5h2M448 362.5h2M446 363.5h2M444 364.5h2M442 365.5h2M439 366.5h3M437 367.5h2M435 368.5h2M433 369.5h2M430 370.5h3M428 371.5h2M426 372.5h2M424 373.5h2M422 374.5h2M419 375.5h3M417 376.5h2M415 377.5h2M413 378.5h2M410 379.5h3M408 380.5h2M406 381.5h2M404 382.5h2M401 383.5h3M399 384.5h2M397 385.5h2M394 386.5h3M392 387.5h2M389 388.5h3M387 389.5h2M385 390.5h2M382 391.5h3M380 392.5h2M377 393.5h3M374 394.5h3M372 395.5h2M368 396.5h4M364 397.5h4M360 398.5h4M356 399.5h4M352 400.5h4M344 401.5h8M335 402.5h9M322 403.5h13M304 404.5h18M201 405.5h59M287 405.5h17M195 406.5h6M260 406.5h27M189 407.5h6M183 408.5h6M176 409.5h7M161 410.5h15M128 411.5h33M104 412.5h24M88 413.5h16M76 414.5h12M66 415.5h10M7 416.5h26M46 416.5h20M33 417.5h13" fill="none" stroke="#ff00ff" stroke-width="1"/>
</g>
<g class="ce">
<rect x="7" y="520" width="1" height="5" fill="#c0c0c0"/>
<rect x="15" y="520" width="1" height="6" fill="#c0c0c0"/>
<rect x="23" y="520" width="1" height="6" fill="#c0c0c0"/>
<rect x="31" y="520" width="1" height="6" fill="#c0c0c0"/>
<rect x="39" y="520" width="1" height="6" fill="#c0c0c0"/>
<rect x="47" y="520" width="1" height="6" fill="#c0c0c0"/>
<rect x="55" y="520" width="1" height="6" fill="#c0c0c0"/>
<rect x="63" y="520" width="1" height="5" fill="#c0c0c0"/>
<rect x="71" y="520" width="1" height="4" fill="#c0c0c0"/>
<rect x="79" y="520" width="1" height="2" fill="#c0c0c0"/>
<rect x="95" y="519" width="1" height="2" fill="#c0c0c0"/>
<rect x="103" y="518" width="1" height="3" fill="#c0c0c0"/>
<rect x="111" y="518" width="1" height="3" fill="#c0c0c0"/>
<rect x="119" y="519" width="1" height="2" fill="#c0c0c0"/>
<rect x="127" y="519" width="1" height="2" fill="#c0c0c0"/>
<rect x="135" y="519" width="1" height="2" fill="#c0c0c0"/>
<rect x="143" y="518" width="1" height="3" fill="#c0c0c0"/>
<rect x="151" y="518" width="1" height="3" fill="#c0c0c0"/>
<rect x="159" y="518" width="1" height="3" fill="#c0c0c0"/>
<rect x="167" y="518" width="1" height="3" fill="#c0c0c0"/>
<rect x="175" y="518" width="1" height="3" fill="#c0c0c0"/>
<rect x="183" y="517" width="1" height="4" fill="#c0c0c0"/>
<rect x="191" y="514" width="1" height="7" fill="#c0c0c0"/>
<rect x="199" y="510" width="1" height="11" fill="#c0c0c0"/>
<rect x="207" y="509" width="1" height="12" fill="#c0c0c0"/>
<rect x="215" y="511" width="1" height="10" fill="#c0c0c0"/>
<rect x="223" y="512" width="1" height="9" fill="#c0c0c0"/>
<rect x="231" y="512" width="1" height="9" fill="#c0c0c0"/>
<rect x="239" y="513" width="1" height="8" fill="#c0c0c0"/>
<rect x="247" y="514" width="1" height="7" fill="#c0c0c0"/>
<rect x="255" y="516" width="1" height="5" fill="#c0c0c0"/>
<rect x="263" y="519" width="1" height="2" fill="#c0c0c0"/>
<rect x="271" y="520" width="1" height="1" fill="#c0c0c0"/>
<rect x="279" y="518" width="1" height="3" fill="#c0c0c0"/>
<rect x="287" y="516" width="1" height="5" fill="#c0c0c0"/>
<rect x="295" y="516" width="1" height="5" fill="#c0c0c0"/>
<rect x="303" y="515" width="1" height="6" fill="#c0c0c0"/>
<rect x="311" y="515" width="1" height="6" fill="#c0c0c0"/>
<rect x="319" y="515" width="1" height="6" fill="#c0c0c0"/>
<rect x="327" y="515" width="1" height="6" fill="#c0c0c0"/>
<rect x="335" y="514" width="1" height="7" fill="#c0c0c0"/>
<rect x="343" y="513" width="1" height="8" fill="#c0c0c0"/>
<rect x="351" y="511" width="1" height="10" fill="#c0c0c0"/>
<rect x="359" y="506" width="1" height="15" fill="#c0c0c0"/>
<rect x="367" y="503" width="1" height="18" fill="#c0c0c0"/>
<rect x="375" y="499" width="1" height="22" fill="#c0c0c0"/>
<rect x="383" y="494" width="1" height="27" fill="#c0c0c0"/>
<rect x="391" y="489" width="1" height="32" fill="#c0c0c0"/>
<rect x="399" y="487" width="1" height="34" fill="#c0c0c0"/>
<rect x="407" y="488" width="1" height="33" fill="#c0c0c0"/>
<rect x="415" y="485" width="1" height="36" fill="#c0c0c0"/>
<rect x="423" y="484" width="1" height="37" fill="#c0c0c0"/>
<rect x="431" y="481" width="1" height="40" fill="#c0c0c0"/>
<rect x="439" y="478" width="1" height="43" fill="#c0c0c0"/>
<rect x="447" y="478" width="1" height="43" fill="#c0c0c0"/>
<rect x="455" y="481" width="1" height="40" fill="#c0c0c0"/>
<rect x="463" y="485" width="1" height="36" fill="#c0c0c0"/>
<rect x="471" y="488" width="1" height="33" fill="#c0c0c0"/>
<rect x="479" y="490" width="1" height="31" fill="#c0c0c0"/>
<rect x="487" y="493" width="1" height="28" fill="#c0c0c0"/>
<rect x="495" y="494" width="1" height="27" fill="#c0c0c0"/>
<rect x="503" y="494" width="1" height="27" fill="#c0c0c0"/>
<rect x="511" y="492" width="1" height="29" fill="#c0c0c0"/>
<rect x="519" y="491" width="1" height="30" fill="#c0c0c0"/>
<rect x="527" y="482" width="1" height="39" fill="#c0c0c0"/>
<rect x="535" y="478" width="1" height="43" fill="#c0c0c0"/>
<rect x="543" y="474" width="1" height="47" fill="#c0c0c0"/>
<rect x="551" y="473" width="1" height="48" fill="#c0c0c0"/>
<rect x="559" y="476" width="1" height="45" fill="#c0c0c0"/>
<rect x="567" y="478" width="1" height="43" fill="#c0c0c0"/>
<rect x="575" y="480" width="1" height="41" fill="#c0c0c0"/>
<rect x="583" y="481" width="1" height="40" fill="#c0c0c0"/>
<rect x="591" y="482" width="1" height="39" fill="#c0c0c0"/>
<rect x="599" y="482" width="1" height="39" fill="#c0c0c0"/>
<rect x="607" y="480" width="1" height="41" fill="#c0c0c0"/>
<rect x="615" y="481" width="1" height="40" fill="#c0c0c0"/>
<rect x="623" y="482" width="1" height="39" fill="#c0c0c0"/>
<rect x="631" y="482" width="1" height="39" fill="#c0c0c0"/>
<rect x="639" y="483" width="1" height="38" fill="#c0c0c0"/>
<rect x="647" y="488" width="1" height="33" fill="#c0c0c0"/>
<rect x="655" y="494" width="1" height="27" fill="#c0c0c0"/>
<rect x="663" y="504" width="1" height="17" fill="#c0c0c0"/>
<rect x="671" y="512" width="1" height="9" fill="#c0c0c0"/>
<rect x="679" y="518" width="1" height="3" fill="#c0c0c0"/>
<rect x="687" y="520" width="1" height="2" fill="#c0c0c0"/>
<rect x="695" y="520" width="1" height="4" fill="#c0c0c0"/>
<rect x="703" y="520" width="1" height="6" fill="#c0c0c0"/>
<rect x="711" y="520" width="1" height="13" fill="#c0c0c0"/>
<rect x="719" y="520" width="1" height="16" fill="#c0c0c0"/>
<rect x="727" y="520" width="1" height="20" fill="#c0c0c0"/>
<rect x="735" y="520" width="1" height="21" fill="#c0c0c0"/>
<rect x="743" y="520" width="1" height="21" fill="#c0c0c0"/>
<rect x="751" y="520" width="1" height="21" fill="#c0c0c0"/>
<rect x="759" y="520" width="1" height="20" fill="#c0c0c0"/>
<rect x="767" y="520" width="1" height="19" fill="#c0c0c0"/>
<rect x="775" y="520" width="1" height="19" fill="#c0c0c0"/>
<rect x="783" y="520" width="1" height="20" fill="#c0c0c0"/>
<rect x="791" y="520" width="1" height="21" fill="#c0c0c0"/>
<rect x="799" y="520" width="1" height="22" fill="#c0c0c0"/>
<rect x="807" y="520" width="1" height="26" fill="#c0c0c0"/>
<rect x="815" y="520" width="1" height="27" fill="#c0c0c0"/>
<rect x="823" y="520" width="1" height="28" fill="#c0c0c0"/>
<rect x="831" y="520" width="1" height="31" fill="#c0c0c0"/>
<rect x="839" y="520" width="1" height="33" fill="#c0c0c0"/>
<rect x="847" y="520" width="1" height="36" fill="#c0c0c0"/>
<rect x="855" y="520" width="1" height="38" fill="#c0c0c0"/>
<rect x="863" y="520" width="1" height="39" fill="#c0c0c0"/>
<rect x="871" y="520" width="1" height="39" fill="#c0c0c0"/>
<rect x="879" y="520" width="1" height="38" fill="#c0c0c0"/>
<rect x="887" y="520" width="1" height="36" fill="#c0c0c0"/>
<rect x="895" y="520" width="1" height="34" fill="#c0c0c0"/>
<rect x="903" y="520" width="1" height="33" fill="#c0c0c0"/>
<rect x="911" y="520" width="1" height="32" fill="#c0c0c0"/>
<rect x="919" y="520" width="1" height="32" fill="#c0c0c0"/>
<rect x="927" y="520" width="1" height="30" fill="#c0c0c0"/>
<rect x="935" y="520" width="1" height="28" fill="#c0c0c0"/>
<rect x="943" y="520" width="1" height="24" fill="#c0c0c0"/>
<rect x="951" y="520" width="1" height="18" fill="#c0c0c0"/>
<rect x="959" y="520" width="1" height="14" fill="#c0c0c0"/>
<rect x="967" y="520" width="1" height="11" fill="#c0c0c0"/>
<rect x="975" y="520" width="1" height="7" fill="#c0c0c0"/>
<rect x="983" y="520" width="1" height="5" fill="#c0c0c0"/>
<rect x="991" y="520" width="1" height="3" fill="#c0c0c0"/>
<rect x="999" y="520" width="1" height="2" fill="#c0c0c0"/>
<rect x="1007" y="520" width="1" height="1" fill="#c0c0c0"/>
<rect x="1023" y="520" width="1" height="1" fill="#c0c0c0"/>
<rect x="1031" y="518" width="1" height="3" fill="#c0c0c0"/>
<rect x="1039" y="516" width="1" height="5" fill="#c0c0c0"/>
<rect x="1047" y="514" width="1" height="7" fill="#c0c0c0"/>
<rect x="1055" y="512" width="1" height="9" fill="#c0c0c0"/>
<rect x="1063" y="509" width="1" height="12" fill="#c0c0c0"/>
<rect x="1071" y="506" width="1" height="15" fill="#c0c0c0"/>
<rect x="1079" y="502" width="1" height="19" fill="#c0c0c0"/>
<rect x="1087" y="500" width="1" height="21" fill="#c0c0c0"/>
<rect x="1095" y="499" width="1" height="22" fill="#c0c0c0"/>
<rect x="1103" y="499" width="1" height="22" fill="#c0c0c0"/>
<rect x="1111" y="501" width="1" height="20" fill="#c0c0c0"/>
<rect x="1119" y="502" width="1" height="19" fill="#c0c0c0"/>
<rect x="1127" y="502" width="1" height="19" fill="#c0c0c0"/>
<rect x="1135" y="502" width="1" height="19" fill="#c0c0c0"/>
<rect x="1143" y="502" width="1" height="19" fill="#c0c0c0"/>
<rect x="1151" y="501" width="1" height="20" fill="#c0c0c0"/>
<rect x="1159" y="500" width="1" height="21" fill="#c0c0c0"/>
<rect x="1167" y="500" width="1" height="21" fill="#c0c0c0"/>
<rect x="1175" y="498" width="1" height="23" fill="#c0c0c0"/>
</g>
<g class="ce"><path d="M589 477.5h5M597 477.5h5M605 477.5h5M581 478.5h5M613 478.5h5M573 479.5h5M621 479.5h5M629 479.5h1M568 480.5h2M630 480.5h4M637 480.5h5M645 480.5h2M565 481.5h3M647 481.5h3M653 481.5h1M453 482.5h5M461 482.5h5M469 482.5h5M477 482.5h5M485 482.5h1M560 482.5h2M654 482.5h4M449 483.5h1M486 483.5h4M493 483.5h1M557 483.5h3M446 484.5h3M494 484.5h4M661 484.5h2M445 485.5h1M501 485.5h1M549 485.5h5M663 485.5h3M440 486.5h2M502 486.5h4M542 486.5h4M438 487.5h2M509 487.5h5M541 487.5h1M669 487.5h2M437 488.5h1M517 488.5h2M533 488.5h5M671 488.5h2M432 489.5h2M519 489.5h3M525 489.5h5M673 489.5h1M429 490.5h3M677 491.5h1M423 492.5h3M678 492.5h2M421 493.5h2M680 493.5h2M416 494.5h2M414 495.5h2M685 495.5h1M413 496.5h1M686 496.5h2M409 497.5h1M688 497.5h2M406 498.5h3M405 499.5h1M1174 499.5h2M401 500.5h1M693 500.5h2M1165 500.5h5M1173 500.5h1M399 501.5h2M695 501.5h1M1117 501.5h5M1125 501.5h5M1133 501.5h5M1141 501.5h5M1149 501.5h5M1157 501.5h5M397 502.5h2M696 502.5h2M1110 502.5h4M393 503.5h1M1109 503.5h1M391 504.5h2M1101 504.5h5M389 505.5h2M701 505.5h2M1093 505.5h5M385 506.5h1M703 506.5h1M382 507.5h3M704 507.5h1M1088 507.5h2M381 508.5h1M705 508.5h1M1085 508.5h3M374 509.5h4M1080 509.5h2M253 510.5h5M261 510.5h2M369 510.5h1M373 510.5h1M1077 510.5h3M241 511.5h1M245 511.5h5M263 511.5h3M365 511.5h4M709 511.5h1M1072 511.5h2M233 512.5h1M237 512.5h4M269 512.5h5M357 512.5h5M710 512.5h1M1070 512.5h2M223 513.5h3M229 513.5h4M277 513.5h5M349 513.5h5M711 513.5h2M1069 513.5h1M213 514.5h5M221 514.5h2M285 514.5h5M333 514.5h5M341 514.5h5M713 514.5h1M1065 514.5h1M205 515.5h5M293 515.5h5M301 515.5h5M309 515.5h5M317 515.5h5M325 515.5h5M1061 515.5h4M197 516.5h5M717 516.5h1M1056 516.5h2M189 517.5h5M718 517.5h2M1053 517.5h3M149 518.5h5M157 518.5h5M165 518.5h5M173 518.5h5M181 518.5h5M720 518.5h1M1048 518.5h2M128 519.5h2M133 519.5h5M141 519.5h5M721 519.5h1M1045 519.5h3M117 520.5h5M125 520.5h3M1041 520.5h1M109 521.5h5M725 521.5h1M1037 521.5h4M101 522.5h5M726 522.5h1M1032 522.5h2M7 523.5h3M13 523.5h5M89 523.5h1M93 523.5h5M727 523.5h1M1029 523.5h3M21 524.5h5M29 524.5h5M77 524.5h5M85 524.5h4M728 524.5h2M1024 524.5h2M37 525.5h5M45 525.5h5M53 525.5h5M61 525.5h5M69 525.5h5M1021 525.5h3M1017 526.5h1M733 527.5h2M1014 527.5h3M735 528.5h2M1013 528.5h1M737 529.5h1M1008 529.5h2M741 530.5h1M1005 530.5h3M742 531.5h3M745 532.5h1M1000 532.5h2M749 533.5h1M998 533.5h2M750 534.5h3M997 534.5h1M753 535.5h1M757 535.5h1M758 536.5h4M992 536.5h2M765 537.5h1M989 537.5h3M766 538.5h4M773 539.5h5M984 539.5h2M781 540.5h5M981 540.5h3M789 541.5h5M797 541.5h5M805 541.5h4M809 542.5h1M813 542.5h5M976 542.5h2M821 543.5h5M973 543.5h3M829 544.5h5M969 544.5h1M837 545.5h1M966 545.5h3M838 546.5h4M965 546.5h1M845 547.5h4M961 547.5h1M849 548.5h1M853 548.5h1M957 548.5h4M854 549.5h4M953 549.5h1M861 550.5h1M949 550.5h4M862 551.5h4M945 551.5h1M869 552.5h1M941 552.5h4M870 553.5h4M937 553.5h1M877 554.5h5M933 554.5h4M885 555.5h5M925 555.5h5M893 556.5h5M901 556.5h5M909 556.5h5M917 556.5h5" fill="none" stroke="#ff0000" stroke-width="1"/></g>
<g class="ce">
<line x1="8" y1="597.5" x2="1194" y2="597.5" stroke="#c0c0c0" stroke-width="1" stroke-dasharray="3 3"/>
<line x1="8" y1="636.5" x2="1194" y2="636.5" stroke="#c0c0c0" stroke-width="1" stroke-dasharray="3 3"/>
</g>
<g class="ce"><path d="M390 586.5h2M388 587.5h2M392 587.5h2M385 588.5h3M394 588.5h2M382 589.5h3M396 589.5h2M378 590.5h4M398 590.5h1M374 591.5h4M399 591.5h1M527 591.5h1M372 592.5h2M400 592.5h1M526 592.5h1M528 592.5h2M198 593.5h2M359 593.5h4M369 593.5h3M401 593.5h1M437 593.5h3M526 593.5h1M530 593.5h1M196 594.5h2M200 594.5h1M358 594.5h1M363 594.5h6M401 594.5h1M432 594.5h5M440 594.5h1M525 594.5h1M531 594.5h2M1069 594.5h12M195 595.5h1M201 595.5h1M357 595.5h1M402 595.5h1M415 595.5h3M429 595.5h3M441 595.5h1M524 595.5h1M533 595.5h2M539 595.5h6M1064 595.5h5M1081 595.5h2M193 596.5h2M202 596.5h1M356 596.5h1M403 596.5h1M414 596.5h1M418 596.5h2M427 596.5h2M442 596.5h2M524 596.5h1M535 596.5h4M545 596.5h2M1062 596.5h2M1083 596.5h2M1151 596.5h5M191 597.5h2M203 597.5h1M355 597.5h1M403 597.5h1M413 597.5h1M420 597.5h3M424 597.5h3M444 597.5h1M523 597.5h1M547 597.5h3M606 597.5h2M1060 597.5h2M1085 597.5h2M1149 597.5h2M1156 597.5h20M190 598.5h1M204 598.5h1M354 598.5h1M404 598.5h1M412 598.5h1M423 598.5h1M445 598.5h1M522 598.5h1M550 598.5h2M604 598.5h2M608 598.5h1M1057 598.5h3M1087 598.5h1M1147 598.5h2M189 599.5h1M204 599.5h1M353 599.5h1M405 599.5h1M411 599.5h1M446 599.5h1M521 599.5h1M552 599.5h1M603 599.5h1M609 599.5h2M1055 599.5h2M1088 599.5h1M1146 599.5h1M187 600.5h2M205 600.5h1M352 600.5h1M405 600.5h1M410 600.5h1M447 600.5h1M511 600.5h2M521 600.5h1M553 600.5h1M601 600.5h2M611 600.5h1M1053 600.5h2M1089 600.5h2M1144 600.5h2M186 601.5h1M206 601.5h1M351 601.5h1M406 601.5h1M409 601.5h1M448 601.5h2M509 601.5h2M513 601.5h4M520 601.5h1M554 601.5h1M599 601.5h2M612 601.5h1M1051 601.5h2M1091 601.5h1M1142 601.5h2M185 602.5h1M207 602.5h1M350 602.5h1M407 602.5h2M450 602.5h1M507 602.5h2M517 602.5h3M554 602.5h1M595 602.5h4M613 602.5h1M625 602.5h9M1048 602.5h3M1092 602.5h1M1140 602.5h2M183 603.5h2M208 603.5h1M349 603.5h1M407 603.5h1M451 603.5h1M505 603.5h2M555 603.5h1M590 603.5h5M614 603.5h1M618 603.5h7M634 603.5h2M1037 603.5h11M1093 603.5h1M1138 603.5h2M183 604.5h1M208 604.5h1M347 604.5h2M452 604.5h1M503 604.5h2M556 604.5h1M578 604.5h12M615 604.5h3M636 604.5h3M1033 604.5h4M1094 604.5h1M1127 604.5h5M1136 604.5h2M182 605.5h1M209 605.5h1M346 605.5h1M453 605.5h1M501 605.5h2M557 605.5h1M572 605.5h6M639 605.5h1M1030 605.5h3M1095 605.5h2M1125 605.5h2M1132 605.5h4M181 606.5h1M209 606.5h1M345 606.5h1M454 606.5h2M500 606.5h1M558 606.5h1M568 606.5h4M640 606.5h1M1028 606.5h2M1097 606.5h2M1123 606.5h2M93 607.5h11M180 607.5h1M210 607.5h1M344 607.5h1M456 607.5h2M498 607.5h2M559 607.5h9M641 607.5h1M1026 607.5h2M1099 607.5h2M1109 607.5h5M1122 607.5h1M91 608.5h2M104 608.5h1M179 608.5h1M210 608.5h1M279 608.5h10M339 608.5h5M458 608.5h2M475 608.5h6M496 608.5h2M642 608.5h1M1024 608.5h2M1101 608.5h2M1105 608.5h4M1114 608.5h4M1120 608.5h2M88 609.5h3M105 609.5h1M178 609.5h1M211 609.5h1M278 609.5h1M289 609.5h2M332 609.5h7M460 609.5h2M468 609.5h7M481 609.5h3M493 609.5h3M643 609.5h1M1022 609.5h2M1103 609.5h2M1118 609.5h2M78 610.5h10M106 610.5h1M159 610.5h1M177 610.5h1M212 610.5h1M231 610.5h1M278 610.5h1M291 610.5h2M302 610.5h3M327 610.5h5M462 610.5h6M484 610.5h2M489 610.5h4M644 610.5h1M974 610.5h3M1020 610.5h2M77 611.5h1M107 611.5h1M157 611.5h2M160 611.5h1M176 611.5h1M212 611.5h1M228 611.5h3M232 611.5h4M277 611.5h1M293 611.5h2M297 611.5h5M305 611.5h5M321 611.5h6M486 611.5h3M645 611.5h1M951 611.5h4M973 611.5h1M977 611.5h3M1018 611.5h2M75 612.5h2M108 612.5h1M156 612.5h1M161 612.5h1M175 612.5h1M213 612.5h1M224 612.5h4M236 612.5h4M277 612.5h1M295 612.5h2M310 612.5h11M646 612.5h1M950 612.5h1M955 612.5h5M971 612.5h2M980 612.5h2M1016 612.5h2M73 613.5h2M109 613.5h1M155 613.5h1M162 613.5h1M174 613.5h1M213 613.5h1M222 613.5h2M240 613.5h2M276 613.5h1M647 613.5h1M948 613.5h2M960 613.5h3M970 613.5h1M982 613.5h5M1006 613.5h10M72 614.5h1M110 614.5h1M133 614.5h8M154 614.5h1M163 614.5h1M172 614.5h2M214 614.5h1M220 614.5h2M242 614.5h1M275 614.5h1M648 614.5h2M947 614.5h1M963 614.5h3M968 614.5h2M987 614.5h9M1002 614.5h4M30 615.5h2M62 615.5h10M111 615.5h6M129 615.5h4M141 615.5h6M153 615.5h1M164 615.5h1M171 615.5h1M214 615.5h1M218 615.5h2M243 615.5h2M275 615.5h1M650 615.5h3M946 615.5h1M966 615.5h2M996 615.5h6M27 616.5h3M32 616.5h2M60 616.5h2M117 616.5h12M147 616.5h4M152 616.5h1M165 616.5h1M169 616.5h2M215 616.5h3M245 616.5h1M274 616.5h1M653 616.5h2M945 616.5h1M25 617.5h2M34 617.5h1M59 617.5h1M151 617.5h1M166 617.5h1M168 617.5h1M215 617.5h1M246 617.5h2M274 617.5h1M655 617.5h1M944 617.5h1M22 618.5h3M35 618.5h1M57 618.5h2M167 618.5h1M248 618.5h2M273 618.5h1M656 618.5h1M943 618.5h1M20 619.5h2M36 619.5h1M55 619.5h2M250 619.5h2M272 619.5h1M657 619.5h1M941 619.5h2M18 620.5h2M37 620.5h1M53 620.5h2M252 620.5h3M272 620.5h1M658 620.5h1M940 620.5h1M15 621.5h3M38 621.5h1M52 621.5h1M255 621.5h17M658 621.5h1M695 621.5h1M939 621.5h1M12 622.5h3M39 622.5h3M50 622.5h2M659 622.5h1M694 622.5h1M696 622.5h2M938 622.5h1M10 623.5h2M42 623.5h3M49 623.5h1M660 623.5h1M692 623.5h2M698 623.5h2M750 623.5h19M937 623.5h1M7 624.5h3M45 624.5h4M660 624.5h1M690 624.5h2M700 624.5h2M747 624.5h3M769 624.5h3M936 624.5h1M661 625.5h1M688 625.5h2M702 625.5h2M735 625.5h4M745 625.5h2M772 625.5h2M933 625.5h3M662 626.5h1M669 626.5h6M684 626.5h4M704 626.5h2M733 626.5h2M739 626.5h6M774 626.5h5M931 626.5h2M663 627.5h6M675 627.5h9M706 627.5h1M732 627.5h1M779 627.5h6M928 627.5h3M663 628.5h1M707 628.5h2M717 628.5h5M730 628.5h2M785 628.5h4M924 628.5h4M709 629.5h2M712 629.5h5M722 629.5h3M729 629.5h1M789 629.5h4M886 629.5h3M920 629.5h4M711 630.5h1M725 630.5h4M793 630.5h5M885 630.5h1M889 630.5h2M902 630.5h2M918 630.5h2M798 631.5h3M883 631.5h2M891 631.5h2M900 631.5h2M904 631.5h3M916 631.5h2M801 632.5h2M813 632.5h6M881 632.5h2M893 632.5h2M897 632.5h3M907 632.5h2M914 632.5h2M803 633.5h3M809 633.5h4M819 633.5h5M879 633.5h2M895 633.5h2M909 633.5h2M912 633.5h2M806 634.5h3M824 634.5h2M878 634.5h1M911 634.5h1M826 635.5h3M876 635.5h2M829 636.5h2M874 636.5h2M831 637.5h4M872 637.5h2M835 638.5h3M854 638.5h6M867 638.5h5M838 639.5h4M851 639.5h3M860 639.5h7M842 640.5h4M849 640.5h2M846 641.5h3" fill="none" stroke="#1e90ff" stroke-width="1"/></g>
<g class="ce" fill="#000">
<rect x="6" y="5" width="1" height="662"/>
<rect x="1194" y="5" width="1" height="662"/>
<rect x="6" y="5" width="1189" height="1"/>
<rect x="6" y="464" width="1189" height="1"/>
<rect x="6" y="466" width="1189" height="1"/>
<rect x="6" y="564" width="1189" height="1"/>
<rect x="6" y="566" width="1189" height="1"/>
<rect x="6" y="666" width="1189" height="1"/>
</g>
<g class="ce"><rect x="6" y="465" width="1189" height="1" fill="#fff"/><rect x="6" y="565" width="1189" height="1" fill="#fff"/></g>
<g class="ce">
<rect x="7" y="235" width="1188" height="2" fill="#00d000"/>
<rect x="7" y="285" width="1188" height="2" fill="#4152e4"/>
<rect x="7" y="330" width="1188" height="2" fill="#4152e4"/>
<rect x="7" y="384" width="1188" height="2" fill="#4152e4"/>
</g>
<g class="ce" fill="#000">
<rect x="1195" y="32" width="2" height="1"/>
<rect x="1195" y="65" width="2" height="1"/>
<rect x="1195" y="98" width="2" height="1"/>
<rect x="1195" y="131" width="2" height="1"/>
<rect x="1195" y="164" width="2" height="1"/>
<rect x="1195" y="197" width="2" height="1"/>
<rect x="1195" y="230" width="2" height="1"/>
<rect x="1195" y="263" width="2" height="1"/>
<rect x="1195" y="296" width="2" height="1"/>
<rect x="1195" y="329" width="2" height="1"/>
<rect x="1195" y="362" width="2" height="1"/>
<rect x="1195" y="395" width="2" height="1"/>
<rect x="1195" y="428" width="2" height="1"/>
<rect x="1195" y="461" width="2" height="1"/>
<rect x="1195" y="468" width="1" height="1"/>
<rect x="1195" y="520" width="1" height="1"/>
<rect x="1195" y="563" width="1" height="1"/>
<rect x="1195" y="568" width="1" height="1"/>
<rect x="1195" y="665" width="1" height="1"/>
<rect x="7" y="667" width="1" height="3"/>
<rect x="71" y="667" width="1" height="3"/>
<rect x="135" y="667" width="1" height="3"/>
<rect x="199" y="667" width="1" height="3"/>
<rect x="263" y="667" width="1" height="3"/>
<rect x="327" y="667" width="1" height="3"/>
<rect x="391" y="667" width="1" height="3"/>
<rect x="455" y="667" width="1" height="3"/>
<rect x="519" y="667" width="1" height="3"/>
<rect x="583" y="667" width="1" height="3"/>
<rect x="647" y="667" width="1" height="3"/>
<rect x="711" y="667" width="1" height="3"/>
<rect x="775" y="667" width="1" height="3"/>
<rect x="839" y="667" width="1" height="3"/>
<rect x="903" y="667" width="1" height="3"/>
<rect x="967" y="667" width="1" height="3"/>
<rect x="1031" y="667" width="1" height="3"/>
<rect x="1095" y="667" width="1" height="3"/>
<rect x="1159" y="667" width="1" height="3"/>
</g>
<g class="tg">
<text x="1199.5" y="35.8" textLength="33.2" lengthAdjust="spacingAndGlyphs">129.960</text>
<text x="1199.5" y="68.8" textLength="33.2" lengthAdjust="spacingAndGlyphs">126.660</text>
<text x="1199.5" y="101.8" textLength="33.2" lengthAdjust="spacingAndGlyphs">123.360</text>
<text x="1199.5" y="134.8" textLength="33.2" lengthAdjust="spacingAndGlyphs">120.060</text>
<text x="1199.5" y="167.8" textLength="33.2" lengthAdjust="spacingAndGlyphs">116.760</text>
<text x="1199.5" y="200.8" textLength="33.2" lengthAdjust="spacingAndGlyphs">113.460</text>
<text x="1199.5" y="233.8" textLength="33.2" lengthAdjust="spacingAndGlyphs">110.160</text>
<text x="1199.5" y="266.8" textLength="33.2" lengthAdjust="spacingAndGlyphs">106.760</text>
<text x="1199.5" y="299.8" textLength="33.2" lengthAdjust="spacingAndGlyphs">103.460</text>
<text x="1199.5" y="332.8" textLength="33.2" lengthAdjust="spacingAndGlyphs">100.160</text>
<text x="1199.8" y="365.8" textLength="28.1" lengthAdjust="spacingAndGlyphs">96.860</text>
<text x="1199.8" y="398.8" textLength="28.1" lengthAdjust="spacingAndGlyphs">93.560</text>
<text x="1199.8" y="431.8" textLength="28.1" lengthAdjust="spacingAndGlyphs">90.260</text>
<text x="1199.8" y="464.8" textLength="28.1" lengthAdjust="spacingAndGlyphs">86.960</text>
<rect class="ce" x="1197" y="182" width="39" height="11" fill="#000"/>
<text x="1199.6" y="191" textLength="33.2" lengthAdjust="spacingAndGlyphs" style="fill:#fff;stroke:#fff">114.457</text>
<rect class="ce" x="1197" y="230" width="39" height="11" fill="#00d000"/>
<text x="1199.6" y="239" textLength="33.2" lengthAdjust="spacingAndGlyphs" style="fill:#fff;stroke:#fff">109.500</text>
<rect class="ce" x="1197" y="280" width="39" height="11" fill="#4152e4"/>
<text x="1199.6" y="289" textLength="33.2" lengthAdjust="spacingAndGlyphs" style="fill:#fff;stroke:#fff">104.500</text>
<rect class="ce" x="1197" y="325" width="39" height="11" fill="#4152e4"/>
<text x="1199.6" y="334" textLength="33.2" lengthAdjust="spacingAndGlyphs" style="fill:#fff;stroke:#fff">100.000</text>
<rect class="ce" x="1197" y="379" width="34" height="11" fill="#4152e4"/>
<text x="1200" y="388" textLength="28.1" lengthAdjust="spacingAndGlyphs" style="fill:#fff;stroke:#fff">94.500</text>
<text x="1197.4" y="477" textLength="28.3" lengthAdjust="spacingAndGlyphs">6.0651</text>
<text x="1197.5" y="524" textLength="17.9" lengthAdjust="spacingAndGlyphs">0.00</text>
<text x="1197.6" y="561" textLength="30.52" lengthAdjust="spacingAndGlyphs">-5.0609</text>
<text x="1197.6" y="577" textLength="15.01" lengthAdjust="spacingAndGlyphs">100</text>
<text x="1196.3" y="600.6" textLength="10.01" lengthAdjust="spacingAndGlyphs">70</text>
<text x="1196.3" y="639.6" textLength="10.01" lengthAdjust="spacingAndGlyphs">30</text>
<text x="1197.4" y="662.5" textLength="5.0" lengthAdjust="spacingAndGlyphs">0</text>
<path d="M10 12 L17 12 L13.5 16 Z" fill="#000"/>
<text x="21.2" y="17" textLength="43.6" lengthAdjust="spacingAndGlyphs">USOil-,H4</text>
<text x="70.9" y="17" textLength="141.5" lengthAdjust="spacingAndGlyphs">114.237 114.578 114.030 114.457</text>
<text x="10.5" y="479" textLength="128" lengthAdjust="spacingAndGlyphs">MACD(12,26,9) 2.6241 2.2688</text>
<text x="10.5" y="579" textLength="68.6" lengthAdjust="spacingAndGlyphs">RSI(14) 69.8824</text>
<text x="6.4" y="679" textLength="51.8" lengthAdjust="spacingAndGlyphs">18 Feb 2022</text>
<text x="69.9" y="679" textLength="54.36" lengthAdjust="spacingAndGlyphs">21 Feb 16:00</text>
<text x="133.9" y="679" textLength="54.36" lengthAdjust="spacingAndGlyphs">23 Feb 00:00</text>
<text x="197.9" y="679" textLength="54.36" lengthAdjust="spacingAndGlyphs">24 Feb 08:00</text>
<text x="261.9" y="679" textLength="54.36" lengthAdjust="spacingAndGlyphs">25 Feb 16:00</text>
<text x="325.9" y="679" textLength="54.36" lengthAdjust="spacingAndGlyphs">28 Feb 20:00</text>
<text x="389.9" y="679" textLength="49.22" lengthAdjust="spacingAndGlyphs">2 Mar 04:00</text>
<text x="453.9" y="679" textLength="49.22" lengthAdjust="spacingAndGlyphs">3 Mar 12:00</text>
<text x="517.9" y="679" textLength="49.22" lengthAdjust="spacingAndGlyphs">4 Mar 20:00</text>
<text x="581.9" y="679" textLength="49.22" lengthAdjust="spacingAndGlyphs">8 Mar 00:00</text>
<text x="645.9" y="679" textLength="49.22" lengthAdjust="spacingAndGlyphs">9 Mar 08:00</text>
<text x="709.9" y="679" textLength="54.35" lengthAdjust="spacingAndGlyphs">10 Mar 16:00</text>
<text x="773.9" y="679" textLength="54.35" lengthAdjust="spacingAndGlyphs">13 Mar 23:00</text>
<text x="837.9" y="679" textLength="54.35" lengthAdjust="spacingAndGlyphs">15 Mar 04:00</text>
<text x="901.9" y="679" textLength="54.35" lengthAdjust="spacingAndGlyphs">16 Mar 12:00</text>
<text x="965.9" y="679" textLength="54.35" lengthAdjust="spacingAndGlyphs">17 Mar 22:00</text>
<text x="1029.9" y="679" textLength="54.35" lengthAdjust="spacingAndGlyphs">21 Mar 00:00</text>
<text x="1093.9" y="679" textLength="54.35" lengthAdjust="spacingAndGlyphs">22 Mar 08:00</text>
<text x="1157.9" y="679" textLength="54.35" lengthAdjust="spacingAndGlyphs">23 Mar 16:00</text>
<g style="opacity:0.999">
<text class="title" x="104" y="116.5" style="font-size:35px">多空转折点</text>
<g transform="scale(1.07,1)"><text class="title" x="256.3 272.2 292.2 310.7 320.5" y="116.5" style="font-size:36px;stroke:#fff;stroke-width:0.5px">109.5</text></g>
</g>
</g>
</svg></body></html>
